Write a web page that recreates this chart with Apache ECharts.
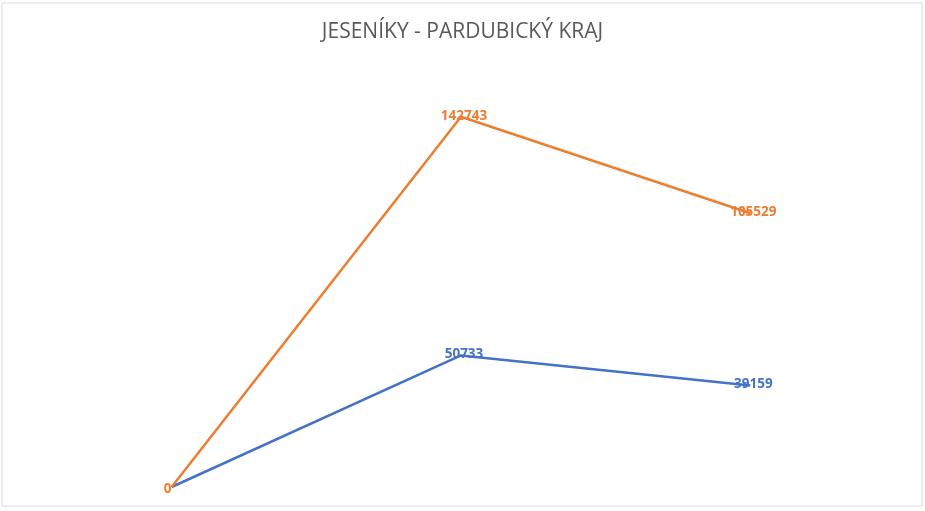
<!DOCTYPE html>
<html>
<head>
<meta charset="utf-8">
<script src="https://cdn.jsdelivr.net/npm/echarts@6/dist/echarts.min.js"></script>
<style>html,body{margin:0;padding:0;background:#fff;}#c{width:925px;height:511px;}</style>
</head>
<body>
<div id="c"></div>
<script>
const categories = ['1', '2', '3'];
const seriesOrange = [0, 142743, 105529];
const seriesBlue = [0, 50733, 39159];
const titleText = 'JESENÍKY - PARDUBICKÝ KRAJ';

const chart = echarts.init(document.getElementById('c'));
const labelBase = { show: true, position: 'inside', fontFamily: 'Open Sans', fontWeight: 'bold', fontSize: 13.5, offset: [3, -1] };
chart.setOption({
  animation: false,
  backgroundColor: '#fff',
  title: {
    text: titleText, left: 'center', top: 17,
    textStyle: { color: '#595959', fontFamily: 'Open Sans', fontWeight: 'normal', fontSize: 21 }
  },
  graphic: [{
    type: 'rect', shape: { x: 2, y: 3, width: 920, height: 503 },
    style: { fill: 'none', stroke: '#d9d9d9', lineWidth: 1 }, silent: true
  }],
  grid: { left: 27, right: 30, top: 72, bottom: 24 },
  xAxis: { type: 'category', data: categories, boundaryGap: true, show: false },
  yAxis: { type: 'value', min: 0, max: 160000, show: false, splitLine: { show: false } },
  series: [
    {
      name: 'B', type: 'line', data: seriesBlue.map((v, i) => i === 0 ? { value: v, label: { show: false } } : v),
      symbol: 'circle', symbolSize: 0, showSymbol: true,
      lineStyle: { color: '#4472C4', width: 2.5 }, itemStyle: { color: '#4472C4' },
      label: Object.assign({ color: '#4472C4' }, labelBase), z: 2
    },
    {
      name: 'A', type: 'line', data: seriesOrange.map((v, i) => i === 0 ? { value: v, label: { offset: [-4, 2] } } : v),
      symbol: 'circle', symbolSize: 0, showSymbol: true,
      lineStyle: { color: '#ED7D31', width: 2.5 }, itemStyle: { color: '#ED7D31' },
      label: Object.assign({ color: '#ED7D31' }, labelBase), z: 3
    }
  ]
});
</script>
</body>
</html>
